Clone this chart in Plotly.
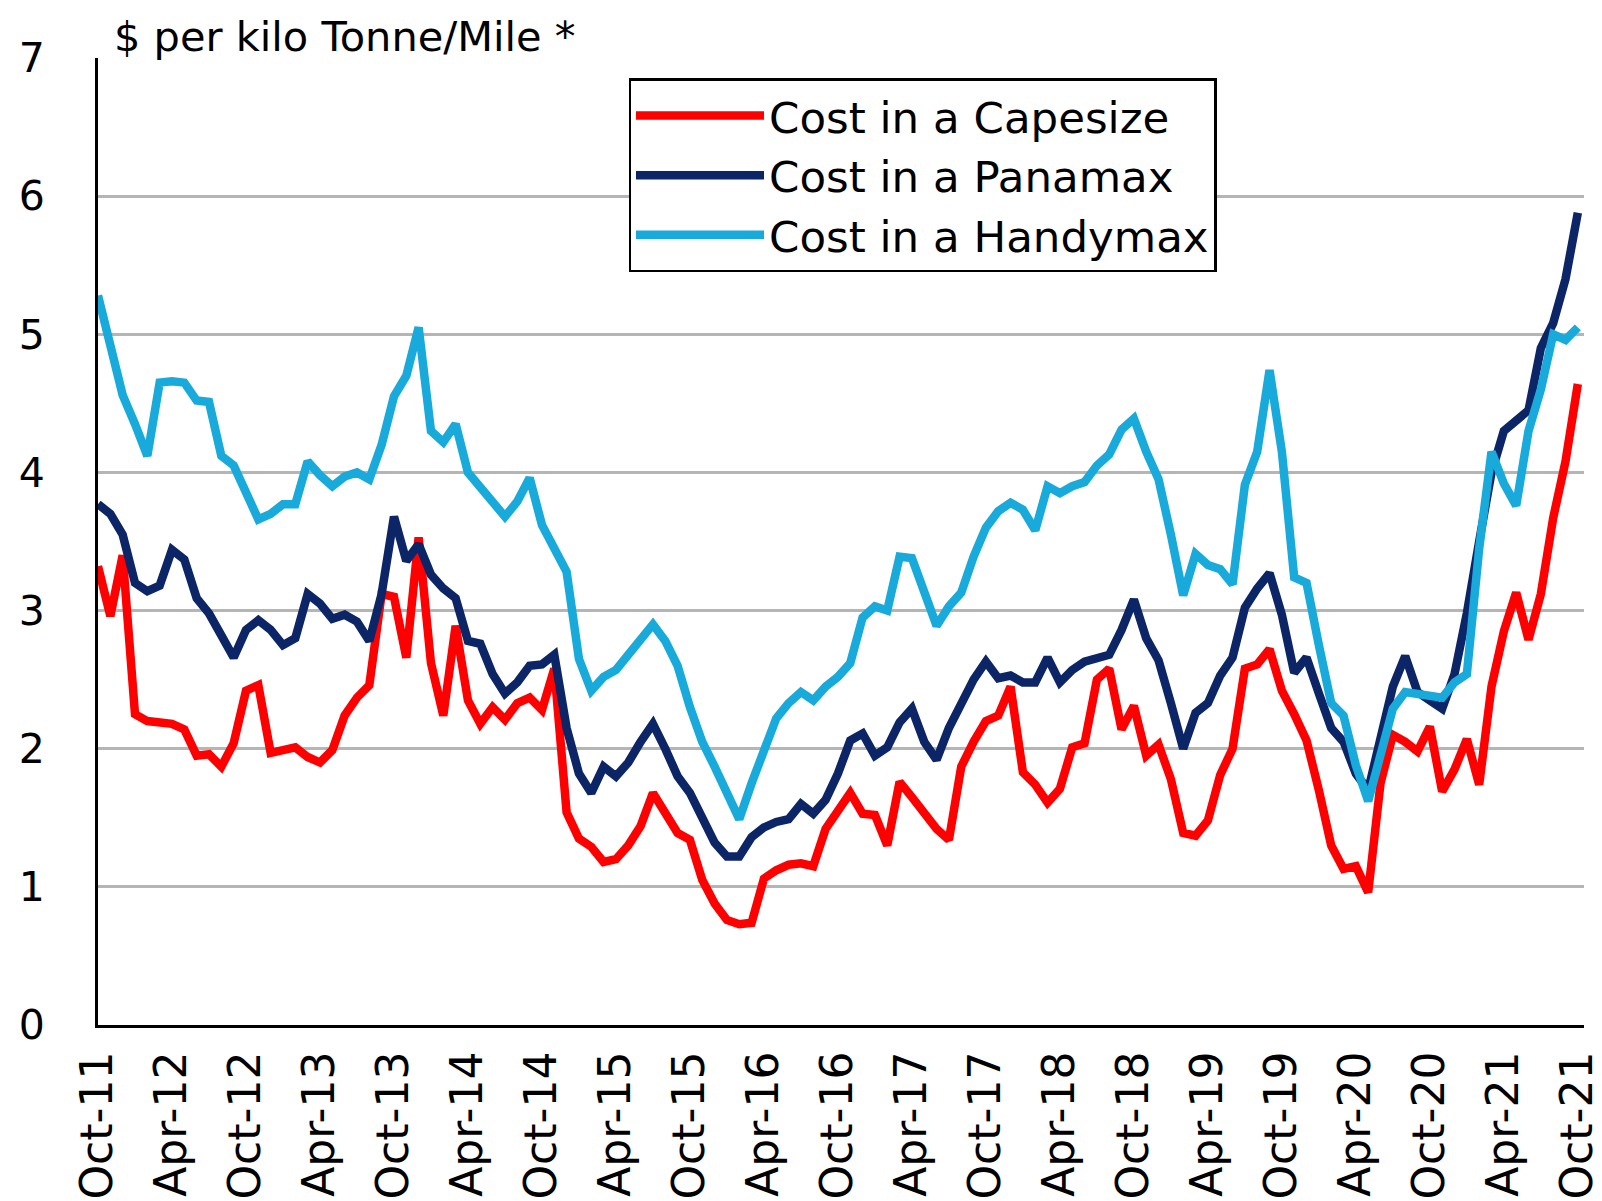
import plotly.graph_objects as go

# Monthly labels Oct-11 .. Oct-21
mon_names = ["Jan", "Feb", "Mar", "Apr", "May", "Jun", "Jul", "Aug", "Sep", "Oct", "Nov", "Dec"]
months = []
m, y = 9, 11
for _ in range(121):
    months.append(f"{mon_names[m]}-{y:02d}")
    m += 1
    if m == 12:
        m, y = 0, y + 1

tick_labels = ["Oct-11", "Apr-12", "Oct-12", "Apr-13", "Oct-13", "Apr-14", "Oct-14",
               "Apr-15", "Oct-15", "Apr-16", "Oct-16", "Apr-17", "Oct-17", "Apr-18",
               "Oct-18", "Apr-19", "Oct-19", "Apr-20", "Oct-20", "Apr-21", "Oct-21"]

capesize = [3.32, 2.96, 3.40, 2.25, 2.20, 2.19, 2.18, 2.14, 1.95, 1.96,
            1.87, 2.04, 2.42, 2.46, 1.97, 1.99, 2.01, 1.94, 1.90, 1.99,
            2.24, 2.37, 2.46, 3.12, 3.10, 2.66, 3.53, 2.62, 2.24, 2.89,
            2.35, 2.18, 2.30, 2.21, 2.33, 2.37, 2.28, 2.58, 1.54, 1.35,
            1.29, 1.18, 1.20, 1.30, 1.44, 1.68, 1.53, 1.39, 1.34, 1.05,
            0.88, 0.76, 0.73, 0.74, 1.06, 1.12, 1.16, 1.17, 1.15, 1.42,
            1.55, 1.68, 1.53, 1.52, 1.30, 1.76, 1.65, 1.53, 1.42, 1.34,
            1.87, 2.05, 2.20, 2.24, 2.45, 1.83, 1.74, 1.61, 1.71, 2.01,
            2.04, 2.50, 2.58, 2.14, 2.31, 1.95, 2.03, 1.78, 1.39, 1.37,
            1.48, 1.81, 2.00, 2.58, 2.61, 2.72, 2.42, 2.25, 2.06, 1.70,
            1.30, 1.13, 1.15, 0.96, 1.75, 2.10, 2.05, 1.98, 2.16, 1.69,
            1.85, 2.07, 1.74, 2.45, 2.85, 3.13, 2.79, 3.12, 3.67, 4.08,
            4.64]

panamax = [3.77, 3.70, 3.55, 3.20, 3.14, 3.18, 3.44, 3.37, 3.09, 2.98,
           2.82, 2.66, 2.86, 2.93, 2.86, 2.75, 2.80, 3.12, 3.05, 2.94,
           2.97, 2.92, 2.78, 3.12, 3.68, 3.36, 3.48, 3.26, 3.16, 3.09,
           2.78, 2.76, 2.54, 2.40, 2.48, 2.60, 2.61, 2.68, 2.15, 1.82,
           1.68, 1.87, 1.80, 1.90, 2.05, 2.18, 2.00, 1.80, 1.68, 1.49,
           1.32, 1.22, 1.22, 1.36, 1.43, 1.47, 1.49, 1.60, 1.53, 1.63,
           1.82, 2.06, 2.11, 1.95, 2.01, 2.19, 2.29, 2.05, 1.92, 2.15,
           2.33, 2.50, 2.63, 2.51, 2.53, 2.48, 2.48, 2.66, 2.48, 2.57,
           2.63, 2.66, 2.68, 2.86, 3.08, 2.80, 2.64, 2.33, 2.00, 2.26,
           2.33, 2.53, 2.66, 3.02, 3.16, 3.27, 2.97, 2.55, 2.66, 2.40,
           2.15, 2.05, 1.82, 1.70, 2.08, 2.45, 2.67, 2.41, 2.35, 2.29,
           2.54, 2.98, 3.50, 4.00, 4.30, 4.38, 4.45, 4.90, 5.08, 5.40,
           5.88]

handymax = [5.28, 4.90, 4.56, 4.35, 4.12, 4.65, 4.66, 4.65, 4.52, 4.51,
            4.12, 4.05, 3.86, 3.66, 3.70, 3.77, 3.77, 4.08, 3.98, 3.90,
            3.97, 4.00, 3.95, 4.20, 4.55, 4.70, 5.05, 4.30, 4.22, 4.35,
            4.00, 3.90, 3.78, 3.68, 3.79, 3.96, 3.62, 3.45, 3.28, 2.65,
            2.42, 2.52, 2.57, 2.68, 2.80, 2.90, 2.78, 2.60, 2.30, 2.05,
            1.87, 1.68, 1.49, 1.75, 2.00, 2.22, 2.33, 2.41, 2.35, 2.45,
            2.52, 2.62, 2.95, 3.03, 3.00, 3.39, 3.38, 3.13, 2.89, 3.03,
            3.13, 3.39, 3.60, 3.72, 3.78, 3.73, 3.58, 3.90, 3.85, 3.90,
            3.93, 4.05, 4.13, 4.31, 4.39, 4.15, 3.95, 3.55, 3.11, 3.41,
            3.33, 3.30, 3.19, 3.91, 4.15, 4.74, 4.15, 3.24, 3.20, 2.75,
            2.33, 2.24, 1.88, 1.62, 1.97, 2.29, 2.41, 2.40, 2.38, 2.37,
            2.48, 2.54, 3.45, 4.15, 3.92, 3.76, 4.30, 4.60, 5.00, 4.96,
            5.05]

series_names = ["Cost in a Capesize", "Cost in a Panamax", "Cost in a Handymax"]
series_colors = ["#FF0000", "#0B2566", "#18AADB"]

x_idx = list(range(len(months)))
tick_pos = [months.index(t) for t in tick_labels]

FONT = "DejaVu Sans"

fig = go.Figure()
for name, vals, col in zip(series_names, [capesize, panamax, handymax], series_colors):
    fig.add_trace(go.Scatter(
        x=x_idx, y=vals, mode="lines", name=name,
        line=dict(color=col, width=8.5),
        customdata=months,
        hovertemplate="%{customdata}: %{y:.2f}<extra>" + name + "</extra>",
    ))

# the page body adds an 8px offset, so the margins are shifted by 8px
fig.update_layout(
    width=1602, height=1193,
    margin=dict(l=90, r=26, t=50, b=176, autoexpand=False),
    paper_bgcolor="white", plot_bgcolor="white",
    font=dict(family=FONT, size=40, color="black"),
    showlegend=True,
    legend=dict(
        x=0.357, y=0.979, xanchor="left", yanchor="top",
        bgcolor="white", bordercolor="black", borderwidth=2.5,
        font=dict(family=FONT, size=43.5, color="black"),
        itemwidth=128, tracegroupgap=0,
    ),
    xaxis=dict(
        range=[0, 120.5], automargin=False,
        tickmode="array", tickvals=tick_pos, ticktext=tick_labels,
        tickangle=-90, ticklabeloverflow="allow",
        tickfont=dict(family=FONT, size=44, color="black"),
        showgrid=False, zeroline=False,
        showline=True, linecolor="black", linewidth=3,
        ticks="", ticklabelstandoff=6,
    ),
    yaxis=dict(
        range=[0, 7], automargin=False,
        tickmode="array", tickvals=[0, 1, 2, 3, 4, 5, 6, 7],
        ticktext=["0", "1", "2", "3", "4", "5", "6", "7"],
        tickfont=dict(family=FONT, size=41, color="black"),
        showgrid=True, gridcolor="#B5B5B5", gridwidth=3,
        zeroline=False,
        showline=True, linecolor="black", linewidth=3,
        ticks="", ticklabelstandoff=42,
    ),
    annotations=[dict(
        text="$ per kilo Tonne/Mile *", xref="paper", yref="paper",
        x=0.0092, y=1.0227, xanchor="left", yanchor="middle",
        showarrow=False, font=dict(family=FONT, size=41.5, color="black"),
    )],
)

fig.write_html("out.html")
